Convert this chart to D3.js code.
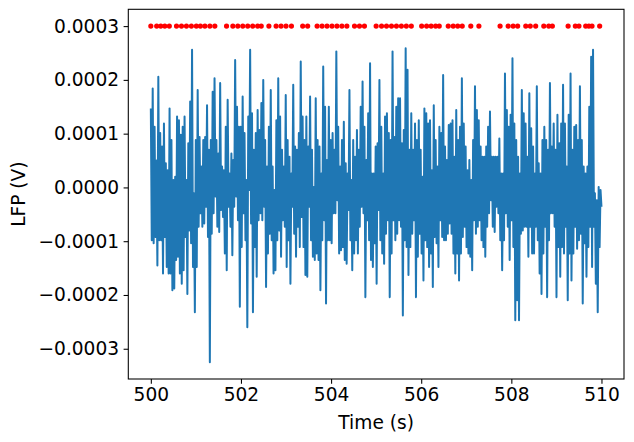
<!DOCTYPE html>
<html><head><meta charset="utf-8">
<script src="https://cdn.jsdelivr.net/npm/d3@7"></script>
<style>body{margin:0;background:#fff}svg{display:block}text{font-family:"DejaVu Sans",sans-serif;fill:#000}</style>
</head><body>
<svg id="c" width="634" height="442"></svg>
<script>
// LFP samples, units of 1e-5 V (alternating local max/min)
const lfp = [
14.7,-9.8,18.4,-10.4,11.3,-9.2,5.0,-14.5,20.6,-9.8,10.1,-9.8,7.6,-16.0,11.9,-9.2,4.5,-14.8,3.2,-16.0,
14.7,-16.0,8.8,-19.1,1.4,-18.8,2.0,-13.5,13.2,-12.9,12.5,-16.0,9.8,-17.9,11.3,-15.4,13.2,-9.2,1.4,-19.8,
8.2,-8.0,16.0,-10.4,25.6,-14.8,-1.1,-23.2,8.8,-14.8,18.1,-7.3,9.4,-4.8,3.9,-7.3,8.8,-6.7,9.4,-3.6,
15.3,-9.2,7.0,-32.5,8.8,-8.6,17.8,-4.8,20.3,-1.7,8.8,-7.3,6.3,-8.3,19.4,-4.2,3.9,-5.5,3.2,-12.3,
11.3,-15.4,16.3,-3.6,2.6,-7.3,6.3,-12.6,5.1,-3.6,23.7,-1.7,15.0,-6.1,11.3,-22.2,11.3,-11.1,16.9,-4.8,
10.1,-9.8,1.4,-26.0,13.2,-0.5,25.6,-6.7,13.8,-23.2,7.0,-11.1,
10.1,-16.6,14.4,-6.1,10.7,-4.8,15.7,-6.1,20.0,-3.6,8.8,-18.5,3.9,-12.3,11.3,-8.6,18.1,-9.8,3.9,-16.0,
-0.5,-15.4,12.5,-9.8,20.3,-8.0,13.2,-12.9,7.0,-6.1,3.9,-7.3,17.2,-14.8,8.8,-9.8,5.7,-17.9,2.6,-3.6,
19.1,-8.6,7.6,-12.9,7.0,-7.3,10.1,-11.1,23.4,-5.5,13.2,-11.1,8.8,-16.3,13.2,-16.6,7.6,-3.6,16.9,-9.8,
7.0,-12.9,0.1,-13.5,16.6,-12.3,8.8,-13.5,7.6,-19.1,2.6,-9.8,22.5,-6.1,15.0,-21.6,5.1,-9.8,15.0,-9.8,
8.8,-10.4,10.1,-4.8,7.0,-4.8,25.3,-2.4,11.3,-12.3,3.9,-11.7,8.8,-11.1,12.2,-13.5,4.5,-14.2,2.6,-4.2,
18.1,-9.8,1.4,-15.4,8.8,-12.3,5.7,-9.8,10.7,-12.3,7.0,-7.3,15.0,-3.6,19.7,-4.8,
11.3,-20.4,5.1,-6.1,13.8,-9.8,23.1,-13.5,2.6,-14.8,2.6,-10.4,7.6,-17.9,8.2,-4.2,20.0,-9.8,11.3,-12.3,
2.6,-14.2,13.2,-8.6,13.8,-6.1,10.1,-20.4,8.8,-12.3,25.3,-6.1,9.4,-9.8,15.0,-8.6,16.6,-6.1,16.6,-7.3,
8.2,-23.8,10.7,-9.8,25.9,-11.1,21.9,-16.3,7.0,-11.1,13.8,-8.6,7.0,-6.1,11.9,-20.4,8.8,-12.9,12.5,-8.6,
7.0,-12.3,2.0,-17.3,14.7,-9.8,13.8,-11.1,11.9,-14.8,12.5,-12.3,3.2,-18.5,15.3,-9.2,8.8,-10.4,3.9,-14.8,
11.3,-6.1,10.1,-9.2,20.9,-9.8,7.6,-9.8,5.1,-8.6,11.6,-6.7,11.9,-8.6,12.5,-12.3,5.7,-16.0,14.4,-12.3,
8.8,-17.3,11.3,-12.3,20.3,-9.2,11.9,-7.3,7.6,-11.1,3.2,-12.3,5.1,-12.9,1.4,-15.4,8.8,-6.1,18.8,-8.6,
14.4,-7.3,12.5,-6.1,7.6,-9.8,
5.7,-11.1,5.7,-12.9,7.6,-7.3,11.3,-4.8,14.1,-2.4,5.7,-7.3,5.7,-8.3,5.7,-3.6,5.7,-4.8,9.1,-9.8,
2.6,-15.4,2.6,-9.8,21.2,-4.8,14.4,-7.3,11.3,-13.5,13.5,-6.1,24.0,-11.1,11.9,-24.7,8.8,-21.0,5.7,-24.7,
2.6,-8.6,18.1,-8.0,13.8,-7.3,11.9,-7.3,5.7,-12.9,17.5,-7.3,11.0,-12.3,7.6,-12.3,2.6,-7.3,18.8,-9.8,
4.5,-16.0,2.6,-19.8,8.8,-12.3,11.3,-7.3,8.8,-20.4,7.0,-9.8,19.4,-4.8,7.6,-4.8,11.9,-7.3,7.0,-20.4,
13.5,-11.1,8.2,-16.6,11.9,-11.1,19.1,-12.3,11.9,-7.3,3.9,-21.0,13.5,-12.3,21.2,-17.3,7.0,-12.3,11.3,-7.3,
11.6,-11.4,8.8,-9.8,18.8,-8.6,8.8,-21.6,3.9,-10.4,2.6,-16.6,3.9,-11.1,15.0,-7.3,24.3,-14.8,25.6,-7.3,
-1.1,-17.9,-2.4,-23.2,0.1,-11.1,-0.5,-3.6
];
const tStart = 500, tEnd = 510;
// spike times (s), drawn at spikeLevel
const spikeTimes = [500.0,500.13,500.22,500.31,500.41,500.57,500.68,500.79,500.90,501.01,501.10,501.20,501.31,501.42,
501.68,501.82,501.93,502.04,502.15,502.26,502.37,502.45,502.62,502.78,502.89,503.00,503.12,503.37,503.48,
503.69,503.80,503.91,504.02,504.13,504.24,504.35,504.52,504.63,504.74,505.0,505.12,505.23,505.34,505.45,505.56,505.67,505.78,
506.01,506.12,506.22,506.32,506.40,506.60,506.71,506.81,506.91,507.10,507.28,
507.75,507.93,508.04,508.14,508.32,508.42,508.54,508.72,508.83,508.91,
509.26,509.42,509.50,509.65,509.72,509.79,509.96];
const spikeLevel = 0.0003;
const xTicks = [500,502,504,506,508,510];
const yTicks = [-0.0003,-0.0002,-0.0001,0,0.0001,0.0002,0.0003];

const W=634,H=442, m={l:128.3,r:10,t:9.3,b:63};
const svg=d3.select('#c');
const n=lfp.length;
const data=lfp.map((v,i)=>({t:tStart+i*(tEnd-tStart)/(n-1), v:v*1e-5}));
const allV=data.map(d=>d.v).concat([spikeLevel]);
const vmin=d3.min(allV), vmax=d3.max(allV), pad=(vmax-vmin)*0.05;
const x=d3.scaleLinear().domain([tStart-0.5,tEnd+0.5]).range([m.l,W-m.r]);
const y=d3.scaleLinear().domain([vmin-pad,vmax+pad]).range([H-m.b,m.t]);

const g=svg.append('g');
g.append('path').datum(data)
 .attr('d',d3.line().x(d=>x(d.t)).y(d=>y(d.v)))
 .attr('fill','none').attr('stroke','#1f77b4').attr('stroke-width',2).attr('stroke-linejoin','round');
g.selectAll('circle').data(spikeTimes).join('circle')
 .attr('cx',d=>x(d)).attr('cy',y(spikeLevel)).attr('r',2.6).attr('fill','#ff0000');

const fmtY=d=>(d<0?'\u2212':'')+Math.abs(d).toFixed(4);
const xa=svg.append('g').attr('transform',`translate(0,${H-m.b})`)
 .call(d3.axisBottom(x).tickValues(xTicks).tickFormat(d3.format('d')).tickSize(4.7).tickPadding(4.5));
const ya=svg.append('g').attr('transform',`translate(${m.l},0)`)
 .call(d3.axisLeft(y).tickValues(yTicks).tickFormat(fmtY).tickSize(4.7).tickPadding(4.5));
[xa,ya].forEach(a=>{a.select('.domain').remove();a.selectAll('text').attr('font-size',18.6).attr('font-family','DejaVu Sans').attr('fill','#000');a.selectAll('line').attr('stroke','#000').attr('stroke-width',1.07);});
svg.append('rect').attr('x',m.l).attr('y',m.t).attr('width',W-m.r-m.l).attr('height',H-m.b-m.t)
 .attr('fill','none').attr('stroke','#000').attr('stroke-width',1.07);
svg.append('text').attr('x',(m.l+W-m.r)/2).attr('y',429).attr('text-anchor','middle').attr('font-size',18.6).text('Time (s)');
svg.append('text').attr('transform',`translate(25,${(m.t+H-m.b)/2}) rotate(-90)`).attr('text-anchor','middle').attr('font-size',18.6).text('LFP (V)');
</script>
</body></html>
